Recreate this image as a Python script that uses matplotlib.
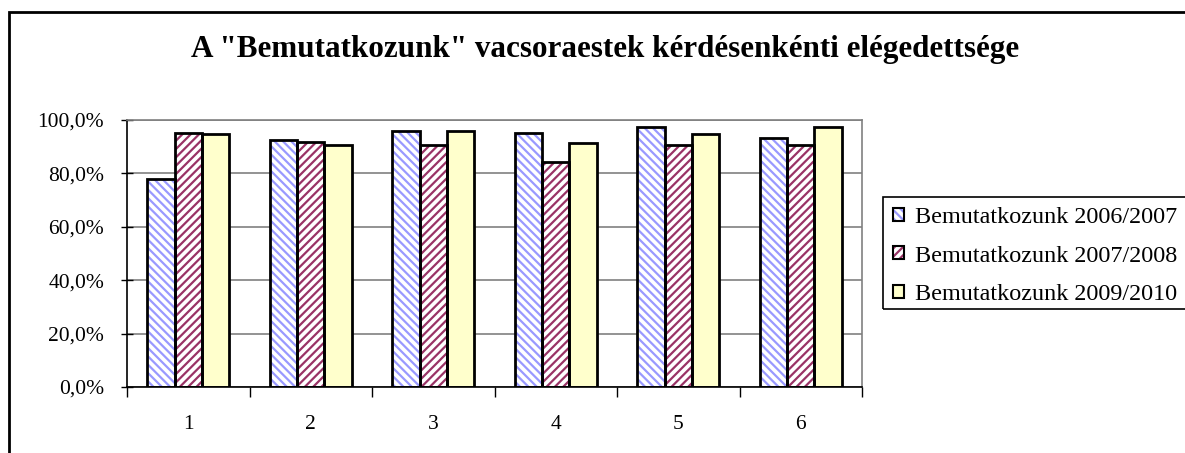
import numpy as np
import matplotlib
matplotlib.use('Agg')
import matplotlib.pyplot as plt
from matplotlib.patches import Patch, Rectangle

plt.rcParams['font.family'] = ['Liberation Serif', 'DejaVu Serif']
plt.rcParams['hatch.linewidth'] = 1.6

categories = ['1', '2', '3', '4', '5', '6']
series = ['Bemutatkozunk 2006/2007', 'Bemutatkozunk 2007/2008', 'Bemutatkozunk 2009/2010']
v0607 = [77.8, 92.5, 95.9, 95.2, 97.4, 93.1]
v0708 = [95.2, 91.9, 90.5, 84.4, 90.5, 90.5]
v0910 = [94.6, 90.6, 95.9, 91.3, 94.6, 97.4]
yticks = [0, 20, 40, 60, 80, 100]

styles = [dict(face='white', hatch='\\\\\\\\', hcol='#9999ff'),
          dict(face='white', hatch='////', hcol='#993366'),
          dict(face='#ffffcc', hatch=None, hcol='#ffffcc')]

fig = plt.figure(figsize=(11.85, 4.53), dpi=100)
ax = fig.add_axes([127/1185, 66/453, 735/1185, 267/453])

x = np.arange(len(categories))
w = 1 / 4.5
handles = []
for i, (vals, st) in enumerate(zip([v0607, v0708, v0910], styles)):
    pos = x + (i - 1) * w
    ax.bar(pos, vals, w, color=st['face'], edgecolor=st['hcol'], hatch=st['hatch'],
           linewidth=0, zorder=2)
    ax.bar(pos, vals, w, facecolor='none', edgecolor='black', linewidth=2, zorder=3)
    h1 = Patch(facecolor=st['face'], edgecolor=st['hcol'], hatch=st['hatch'], linewidth=0)
    h2 = Patch(facecolor='none', edgecolor='black', linewidth=1.5)
    handles.append((h1, h2))

ax.set_xlim(-0.5, 5.5)
ax.set_ylim(0, 100)
ax.set_yticks(yticks)
ax.yaxis.set_major_formatter(plt.FuncFormatter(lambda v, p: ('%.1f%%' % v).replace('.', ',')))
ax.set_xticks(x)
ax.set_xticklabels(categories)
ax.set_xticks(np.arange(-0.5, 6, 1), minor=True)
ax.tick_params(axis='x', which='major', length=0, pad=20, labelsize=15.5)
ax.tick_params(axis='x', which='minor', length=7, width=1, direction='out')
ax.tick_params(axis='y', length=9, width=1, direction='inout', pad=12, labelsize=15.5)
ax.grid(axis='y', color='#808080', linewidth=1.2, zorder=0)
ax.set_axisbelow(True)
for s in ['top', 'right']:
    ax.spines[s].set_color('#808080')
    ax.spines[s].set_linewidth(1.2)
for s in ['left', 'bottom']:
    ax.spines[s].set_color('black')
    ax.spines[s].set_linewidth(1.2)

fig.text(605/1185, 1 - 50/453, 'A "Bemutatkozunk" vacsoraestek kérdésenkénti elégedettsége',
         ha='center', va='center', fontsize=22.4, fontweight='bold')

# legend box runs past the right edge of the picture
fig.patches.append(Rectangle((883/1185, 1 - 309/453), 0.4, 112/453, transform=fig.transFigure,
                             fill=False, edgecolor='black', linewidth=1.2))
fig.legend(handles, series, loc='center left', bbox_to_anchor=(893/1185, 1 - 256/453),
           fontsize=17.4, frameon=False, handlelength=0.45, handleheight=0.45,
           handletextpad=0.45, labelspacing=0.73, borderpad=0, borderaxespad=0)

fig.patches.append(Rectangle((9/1185, -0.1), 1.2, 1.1 - 12/453, transform=fig.transFigure,
                             fill=False, edgecolor='black', linewidth=2))

fig.savefig('out.png', dpi=100)
